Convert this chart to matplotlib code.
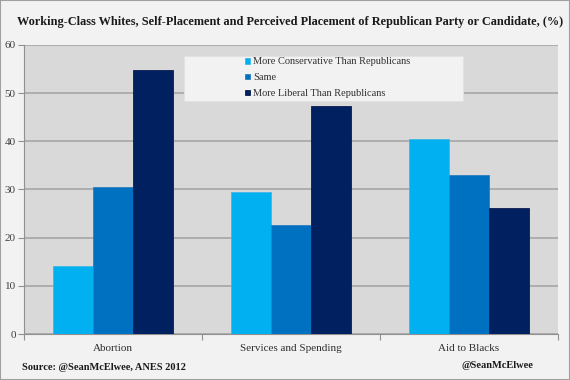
import matplotlib
matplotlib.use("Agg")
import matplotlib.pyplot as plt
import numpy as np
from matplotlib.patches import Rectangle

categories = ["Abortion", "Services and Spending", "Aid to Blacks"]
series_names = ["More Conservative Than Republicans", "Same", "More Liberal Than Republicans"]
more_conservative = [14.2, 29.5, 40.4]
same = [30.5, 22.6, 33.0]
more_liberal = [54.9, 47.4, 26.1]
yticks = [0, 10, 20, 30, 40, 50, 60]

colors = ["#00b0f0", "#0070c0", "#002060"]
edges = ["#3fb8e8", "#2a7fc0", "#0a1a50"]

plt.rcParams['font.family'] = ['Liberation Serif', 'DejaVu Serif']

W, H = 570, 380
fig = plt.figure(figsize=(5.7, 3.8), dpi=100, facecolor="#f2f2f2")
fig.patches.append(Rectangle((0, 0), 1, 1, transform=fig.transFigure, fill=False,
                             edgecolor="#a0a0a0", linewidth=1.5))
ax = fig.add_axes([24/W, 1-334/H, (558-24)/W, (334-45)/H])
ax.set_facecolor("#d9d9d9")

x = np.arange(len(categories))
w = 0.223
for i, (vals, name) in enumerate(zip([more_conservative, same, more_liberal], series_names)):
    ax.bar(x + (i - 1) * w, vals, w, color=colors[i], edgecolor=edges[i], linewidth=0.6,
           label=name, zorder=3)

ax.set_xlim(-0.5, 2.5)
ax.set_ylim(0, 60)
ax.set_yticks(yticks)
ax.yaxis.grid(True, color="#a6a6a6", linewidth=1.2, zorder=0)
ax.set_axisbelow(True)
ax.tick_params(axis='y', length=4, color="#909090", labelsize=8, labelcolor="#404040", pad=2, width=0.8)
ax.set_xticks(x)
ax.set_xticklabels(categories, fontsize=8, color="#303030")
ax.set_xticks([-0.5, 0.5, 1.5, 2.5], minor=True)
ax.tick_params(axis='x', which='major', length=0, pad=7)
ax.tick_params(axis='x', which='minor', length=4, color="#909090", width=0.8)
for s in ["top", "right"]:
    ax.spines[s].set_visible(False)
for s in ["left", "bottom"]:
    ax.spines[s].set_color("#909090")
    ax.spines[s].set_linewidth(0.8)

# legend box
box = Rectangle((184/W, 1-101/H), (463-184)/W, (101-56)/H, transform=fig.transFigure,
                facecolor="#f2f2f2", edgecolor="#e2e2e2", linewidth=0.8, zorder=4)
fig.patches.append(box)
leg = fig.legend(loc="upper left", bbox_to_anchor=(245/W, 1-57.5/H),
                 fontsize=7.5, frameon=False,
                 handlelength=0.45, handleheight=0.45, handletextpad=0.35,
                 labelspacing=0.66, borderpad=0, borderaxespad=0)
for t in leg.get_texts():
    t.set_color("#303030")
leg.set_zorder(6)

fig.text(0.509, 1-22/H, "Working-Class Whites, Self-Placement and Perceived Placement of Republican Party or Candidate, (%)",
         ha="center", va="center", fontsize=8.8, fontweight="bold", color="#1a1a1a")
fig.text(22/W, 1-368/H, "Source: @SeanMcElwee, ANES 2012", ha="left", va="center",
         fontsize=7.5, fontweight="bold", color="#1a1a1a")
fig.text(533/W, 1-366/H, "@SeanMcElwee", ha="right", va="center",
         fontsize=7.5, fontweight="bold", color="#1a1a1a")

fig.savefig("out.png", dpi=100, facecolor=fig.get_facecolor())
